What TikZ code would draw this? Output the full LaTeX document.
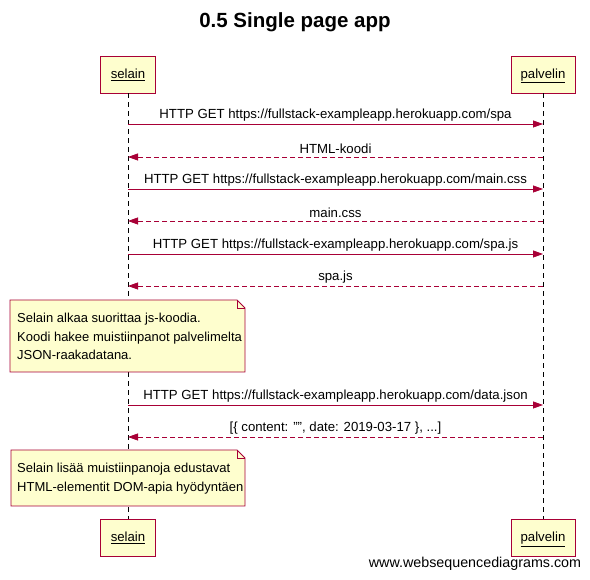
\documentclass[tikz,border=0pt]{standalone}
\usepackage{fontspec}
\setmainfont{Liberation Sans}
\usetikzlibrary{arrows.meta}
\definecolor{wsdred}{HTML}{A80036}
\definecolor{wsdfill}{HTML}{FEFECE}
\begin{document}
\begin{tikzpicture}[x=1pt,y=-1pt,
  msgfont/.style={font=\fontsize{13.2}{15}\selectfont},
  actor/.style={draw=wsdred, fill=wsdfill, line width=0.9pt, minimum height=37pt,
    inner sep=0pt, msgfont},
  lifeline/.style={draw=black, line width=0.7pt, dash pattern=on 5pt off 4pt},
  req/.style={draw=wsdred, line width=0.8pt, -{Triangle[length=10pt,width=7pt]}},
  resp/.style={req, dash pattern=on 5pt off 3pt},
  lbl/.style={above=1.5pt, inner sep=1pt, text=black, msgfont},
  notetext/.style={anchor=north west, inner sep=0pt, align=left,
    font=\fontsize{13}{18.5}\selectfont},
  notebox/.style={draw=wsdred, fill=wsdfill, line width=0.8pt}
]
\useasboundingbox (0,0) rectangle (590,580);

% title
\node[font=\bfseries\fontsize{20.5}{24}\selectfont] (title) at (295,22) {0.5 Single page app};

% participants, top and bottom
\node[actor, minimum width=55pt, text depth=2pt] (selTop) at (128,74.5) {\underline{selain}};
\node[actor, minimum width=64pt, text depth=2pt] (palTop) at (543,74.5) {\underline{palvelin}};
\node[actor, minimum width=55pt, text depth=2pt] (selBot) at (128,538) {\underline{selain}};
\node[actor, minimum width=64pt, text depth=2pt] (palBot) at (543,538) {\underline{palvelin}};

% lifelines
\draw[lifeline] (selTop.south) -- (selBot.north);
\draw[lifeline] (palTop.south) -- (palBot.north);

% message end points on the lifelines
\foreach \n/\y in {1/124,2/157,3/189,4/221,5/254,6/286,7/405,8/437}{
  \coordinate (s\n) at (128,\y);
  \coordinate (p\n) at (543,\y);
}

\draw[req]  (s1) -- node[lbl] {HTTP GET https://fullstack-exampleapp.herokuapp.com/spa} (p1);
\draw[resp] (p2) -- node[lbl] {HTML-koodi} (s2);
\draw[req]  (s3) -- node[lbl] {HTTP GET https://fullstack-exampleapp.herokuapp.com/main.css} (p3);
\draw[resp] (p4) -- node[lbl] {main.css} (s4);
\draw[req]  (s5) -- node[lbl] {HTTP GET https://fullstack-exampleapp.herokuapp.com/spa.js} (p5);
\draw[resp] (p6) -- node[lbl] {spa.js} (s6);
\draw[req]  (s7) -- node[lbl] {HTTP GET https://fullstack-exampleapp.herokuapp.com/data.json} (p7);
\draw[resp] (p8) -- node[lbl] {[\{ content: "", date: 2019-03-17 \}, ...]} (s8);

% first note
\coordinate (n1tl) at (10,300);
\coordinate (n1br) at (245,372);
\draw[notebox] (n1tl) -- (237,300) -- (245,308) -- (n1br) -- (10,372) -- cycle;
\draw[notebox, fill=none] (237,300) -- (237,308) -- (245,308);
\node[notetext] (note1) at (17,313) {Selain alkaa suorittaa js-koodia.\\Koodi hakee muistiinpanot palvelimelta\\JSON-raakadatana.};

% second note
\coordinate (n2tl) at (11,450);
\coordinate (n2br) at (245,506);
\draw[notebox] (n2tl) -- (237,450) -- (245,458) -- (n2br) -- (11,506) -- cycle;
\draw[notebox, fill=none] (237,450) -- (237,458) -- (245,458);
\node[notetext] (note2) at (17,463) {Selain lisää muistiinpanoja edustavat\\HTML-elementit DOM-apia hyödyntäen};

% footer
\node[font=\fontsize{14.3}{16}\selectfont] (credit) at (475,564) {www.websequencediagrams.com};
\end{tikzpicture}
\end{document}
